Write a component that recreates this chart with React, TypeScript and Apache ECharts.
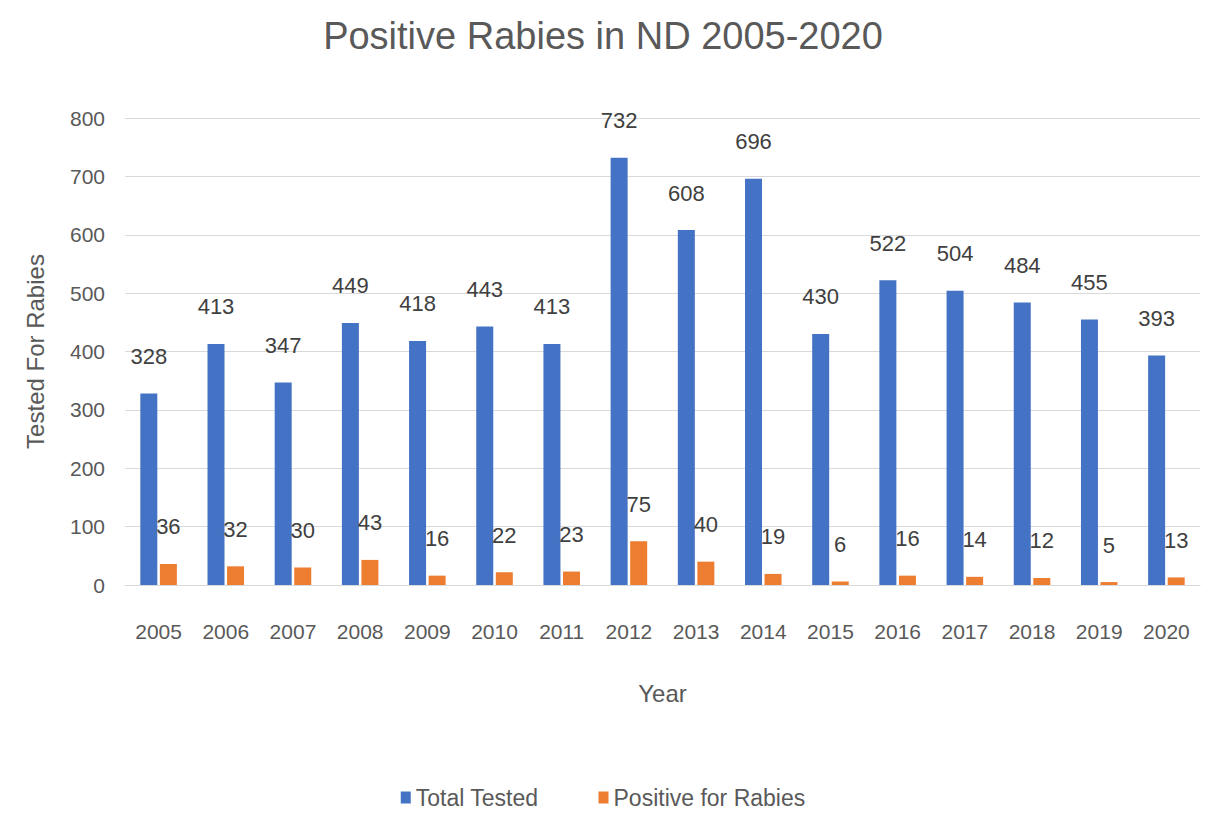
import React, { useEffect, useRef } from "react";
import * as echarts from "echarts";

const years = ["2005","2006","2007","2008","2009","2010","2011","2012","2013","2014","2015","2016","2017","2018","2019","2020"];
const totalTested = [328, 413, 347, 449, 418, 443, 413, 732, 608, 696, 430, 522, 504, 484, 455, 393];
const positive = [36, 32, 30, 43, 16, 22, 23, 75, 40, 19, 6, 16, 14, 12, 5, 13];

const FONT = "'Liberation Sans Narrow', 'Liberation Sans', sans-serif";
const GRAY = "#595959";

export default function App() {
  const ref = useRef<HTMLDivElement>(null);
  useEffect(() => {
    const chart = echarts.init(ref.current!, null, { renderer: "svg" });
    const label = {
      show: true,
      position: "top",
      distance: 26,
      color: "#404040",
      fontSize: 22,
      fontFamily: FONT,
    };
    chart.setOption({
      animation: false,
      backgroundColor: "#ffffff",
      title: {
        text: "Positive Rabies in ND 2005-2020",
        left: "center",
        top: 12,
        textStyle: { color: GRAY, fontSize: 38, fontWeight: "normal", fontFamily: FONT },
      },
      legend: {
        bottom: 2,
        left: "center",
        itemWidth: 10,
        itemHeight: 12,
        itemGap: 60,
        icon: "rect",
        textStyle: { color: GRAY, fontSize: 23, fontFamily: FONT },
        data: ["Total Tested", "Positive for Rabies"],
      },
      grid: { left: 125, right: 6, top: 118, bottom: 231 },
      xAxis: {
        type: "category",
        data: years,
        name: "Year",
        nameLocation: "middle",
        nameGap: 96,
        nameTextStyle: { color: GRAY, fontSize: 24, fontFamily: FONT },
        axisLine: { lineStyle: { color: "#d9d9d9" } },
        axisTick: { show: false },
        axisLabel: { color: GRAY, fontSize: 21, fontFamily: FONT, margin: 36 },
      },
      yAxis: {
        type: "value",
        min: 0,
        max: 800,
        interval: 100,
        name: "Tested For Rabies",
        nameLocation: "middle",
        nameGap: 78,
        nameTextStyle: { color: GRAY, fontSize: 24, fontFamily: FONT },
        axisLine: { show: false },
        axisTick: { show: false },
        axisLabel: { color: GRAY, fontSize: 21, fontFamily: FONT, margin: 20 },
        splitLine: { lineStyle: { color: "#d9d9d9" } },
      },
      series: [
        {
          name: "Total Tested",
          type: "bar",
          data: totalTested,
          barWidth: 17,
          barGap: "15%",
          itemStyle: { color: "#4472c4" },
          label,
        },
        {
          name: "Positive for Rabies",
          type: "bar",
          data: positive,
          barWidth: 17,
          itemStyle: { color: "#ed7d31" },
          label,
        },
      ],
    });
    return () => chart.dispose();
  }, []);
  return (
    <div
      ref={ref}
      style={{ position: "fixed", left: 0, top: 0, width: 1206, height: 816 }}
    />
  );
}
